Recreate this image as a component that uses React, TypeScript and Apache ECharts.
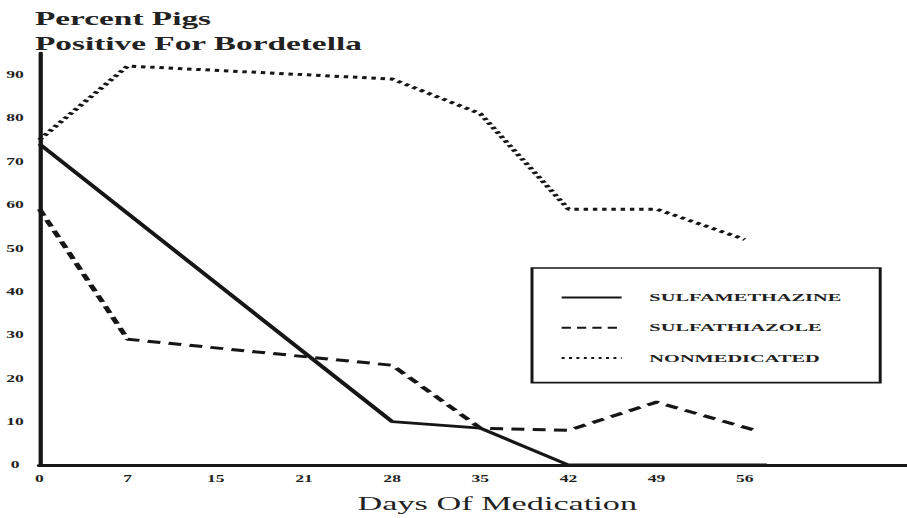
import React, { useEffect, useRef } from "react";
import * as echarts from "echarts";

// ---- data (x = position index of the day label) ----
const dayLabels = ["0", "7", "15", "21", "28", "35", "42", "49", "56"];
const yTicks = [0, 10, 20, 30, 40, 50, 60, 70, 80, 90];

const sulfamethazineX = [0, 4, 5, 6, 8.25];
const sulfamethazineY = [74, 10, 8.5, 0, 0];

const sulfathiazoleX = [0, 1, 4, 5, 6, 7, 8.15];
const sulfathiazoleY = [59, 29, 23, 8.5, 8, 14.5, 7.8];

const nonmedicatedX = [0, 1, 4, 5, 6, 7, 8];
const nonmedicatedY = [75, 92, 89, 81, 59, 59, 52];

const seriesNames = ["SULFAMETHAZINE", "SULFATHIAZOLE", "NONMEDICATED"];

const S = 1.851; // horizontal stretch of the reference
const W = 907 / S;
const H = 518;
const INK = "#161616";
const FONT = "'Liberation Serif', 'Times New Roman', serif";

const pairs = (xs: number[], ys: number[]) => xs.map((x, i) => [x, ys[i]]);

export default function App() {
  const ref = useRef<HTMLDivElement>(null);
  useEffect(() => {
    if (!ref.current) return;
    const chart = echarts.init(ref.current, null, { renderer: "svg" });
    chart.setOption({
      animation: false,
      backgroundColor: "#ffffff",
      title: {
        text: "Percent Pigs\nPositive For Bordetella",
        left: 35 / S,
        top: 6,
        padding: 0,
        textStyle: {
          fontFamily: FONT,
          fontWeight: "bold",
          fontSize: 18,
          lineHeight: 25,
          color: "#222",
        },
      },
      grid: { left: 39.5 / S, right: 0, top: 53, bottom: 51, containLabel: false },
      xAxis: {
        type: "value",
        min: 0,
        max: 9.84,
        interval: 1,
        name: "Days Of Medication",
        nameLocation: "middle",
        nameGap: 29,
        nameTextStyle: {
          fontFamily: FONT,
          fontSize: 18.5,
          color: "#222",
          padding: [0, 0, 0, 26],
        },
        axisLine: { show: true, onZero: false, lineStyle: { color: INK, width: 3 } },
        axisTick: { show: false },
        splitLine: { show: false },
        axisLabel: {
          margin: 9,
          fontFamily: FONT,
          fontWeight: "bold",
          fontSize: 9.5,
          color: "#222",
          showMaxLabel: false,
          formatter: (v: number) =>
            Number.isInteger(v) && v < dayLabels.length ? dayLabels[v] : "",
        },
      },
      yAxis: {
        type: "value",
        min: 0,
        max: 95,
        interval: 10,
        axisLine: { show: true, onZero: false, lineStyle: { color: INK, width: 2.3 } },
        axisTick: { show: false },
        splitLine: { show: false },
        axisLabel: {
          margin: 13.2,
          align: "center",
          fontFamily: FONT,
          fontWeight: "bold",
          fontSize: 9.5,
          color: "#222",
          showMaxLabel: false,
          formatter: (v: number) => (yTicks.includes(v) ? String(v) : ""),
        },
      },
      legend: {
        orient: "vertical",
        left: 532 / S,
        top: 268,
        padding: [24, 21, 19, 15],
        itemGap: 19,
        itemWidth: 60 / S,
        itemHeight: 14,
        borderColor: INK,
        borderWidth: 1.6,
        backgroundColor: "#fff",
        itemStyle: { color: "rgba(0,0,0,0)", borderWidth: 0 },
        textStyle: {
          fontFamily: FONT,
          fontWeight: "bold",
          fontSize: 11,
          color: "#222",
          padding: [0, 0, 0, 10],
        },
        data: [
          { name: seriesNames[0], lineStyle: { width: 2, type: "solid", color: INK } },
          { name: seriesNames[1], lineStyle: { width: 2, type: [5, 3.3], color: INK } },
          { name: seriesNames[2], lineStyle: { width: 2, type: [1.6, 2.4], color: INK } },
        ],
      },
      series: [
        {
          name: seriesNames[0],
          type: "line",
          data: pairs(sulfamethazineX, sulfamethazineY),
          symbol: "none",
          clip: false,
          lineStyle: { color: INK, width: 2.8, type: "solid" },
          itemStyle: { color: INK },
        },
        {
          name: seriesNames[1],
          type: "line",
          data: pairs(sulfathiazoleX, sulfathiazoleY),
          symbol: "none",
          clip: false,
          lineStyle: { color: INK, width: 3, type: [7, 4.5] },
          itemStyle: { color: INK },
        },
        {
          name: seriesNames[2],
          type: "line",
          data: pairs(nonmedicatedX, nonmedicatedY),
          symbol: "none",
          clip: false,
          lineStyle: { color: INK, width: 3, type: [2.4, 2.6] },
          itemStyle: { color: INK },
        },
      ],
    });
    return () => chart.dispose();
  }, []);

  return (
    <div
      style={{
        position: "fixed",
        left: 0,
        top: 0,
        width: W,
        height: H,
        transform: `scaleX(${S})`,
        transformOrigin: "0 0",
        background: "#fff",
      }}
    >
      <div ref={ref} style={{ width: W, height: H }} />
    </div>
  );
}
